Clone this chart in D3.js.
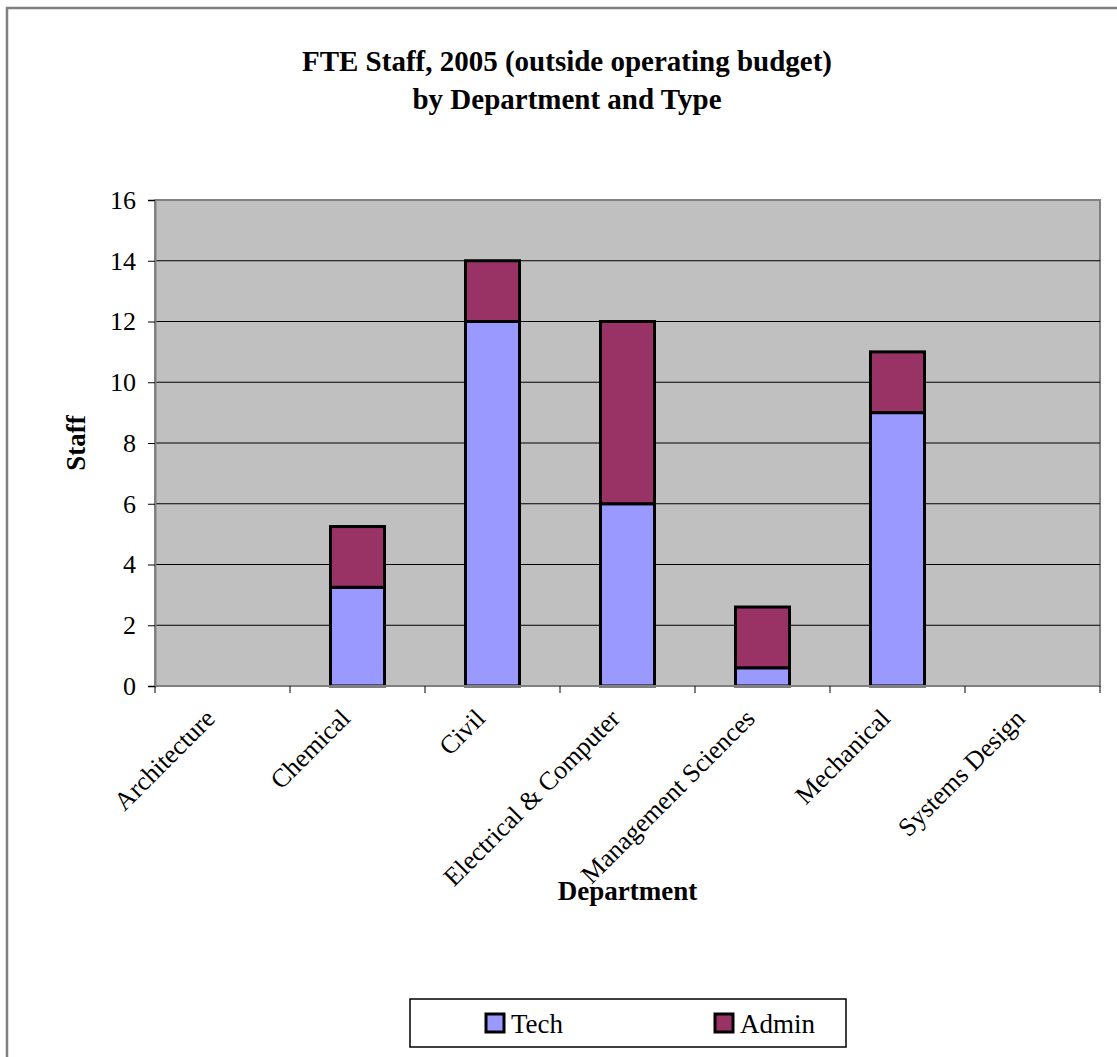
<!DOCTYPE html>
<html>
<head>
<meta charset="utf-8">
<script src="https://cdn.jsdelivr.net/npm/d3@7"></script>
<style>
  body { margin: 0; background: #fff; }
  text { font-family: "Liberation Serif", "Times New Roman", serif; fill: #000; }
</style>
</head>
<body>
<svg id="chart"></svg>
<script>
const departments = ["Architecture", "Chemical", "Civil", "Electrical & Computer",
                     "Management Sciences", "Mechanical", "Systems Design"];
const tech = [0, 3.25, 12, 6, 0.6, 9, 0];
const admin = [0, 2, 2, 6, 2, 2, 0];
const seriesNames = ["Tech", "Admin"];
const seriesColors = ["#9999ff", "#993366"];
const yTicks = [0, 2, 4, 6, 8, 10, 12, 14, 16];

const width = 1117;
const height = 1057;
const svg = d3.select("#chart")
              .attr("width", width)
              .attr("height", height);

// outer chart frame
svg.append("rect")
    .attr("x", 7).attr("y", 8)
    .attr("width", width + 20).attr("height", height + 20)
    .attr("fill", "#fff")
    .attr("stroke", "#808080")
    .attr("stroke-width", 2.5);

const margin = {top: 200, right: 17, bottom: 371, left: 155};
const plotW = width - margin.left - margin.right;
const plotH = height - margin.top - margin.bottom;

const x = d3.scaleBand()
            .domain(departments)
            .range([margin.left, margin.left + plotW])
            .paddingInner(0.6).paddingOuter(0.3);
// ticks sit between categories
const edges = d3.scaleLinear().domain([0, departments.length]).range([margin.left, margin.left + plotW]);
const y = d3.scaleLinear().domain([0, 16]).range([margin.top + plotH, margin.top]);

// plot background
svg.append("rect")
    .attr("x", margin.left).attr("y", margin.top)
    .attr("width", plotW).attr("height", plotH)
    .attr("fill", "#c0c0c0")
    .attr("stroke", "#808080")
    .attr("stroke-width", 2);

// gridlines
svg.append("g").selectAll("line")
    .data(yTicks.filter(d => d > 0 && d < 16))
    .enter().append("line")
      .attr("x1", margin.left).attr("x2", margin.left + plotW)
      .attr("y1", d => y(d)).attr("y2", d => y(d))
      .attr("stroke", "#000")
      .attr("stroke-width", 1);

// stacked bars
const rows = departments.map((d, i) => ({dept: d, Tech: tech[i], Admin: admin[i]}));
const stack = d3.stack().keys(seriesNames)(rows);

svg.append("g").selectAll("g")
    .data(stack)
    .enter().append("g")
      .attr("fill", (d, i) => seriesColors[i])
    .selectAll("rect")
    .data(d => d.filter(p => p[1] - p[0] > 0))
    .enter().append("rect")
      .attr("x", d => x(d.data.dept))
      .attr("width", x.bandwidth())
      .attr("y", d => y(d[1]))
      .attr("height", d => y(d[0]) - y(d[1]))
      .attr("stroke", "#000")
      .attr("stroke-width", 3);

// y axis
const yAxis = svg.append("g")
    .attr("transform", `translate(${margin.left},0)`)
    .call(d3.axisLeft(y).tickValues(yTicks).tickSize(7).tickPadding(12).tickFormat(d3.format("d")));
yAxis.select(".domain").attr("stroke", "#808080").attr("stroke-width", 2);
yAxis.selectAll(".tick line").attr("stroke", "#000");
yAxis.selectAll(".tick text")
    .attr("font-family", "Liberation Serif")
    .attr("font-size", 26);

// x axis: ticks on category boundaries
svg.append("line")
    .attr("x1", margin.left).attr("x2", margin.left + plotW)
    .attr("y1", y(0)).attr("y2", y(0))
    .attr("stroke", "#808080").attr("stroke-width", 2);
svg.append("g").selectAll("line")
    .data(d3.range(departments.length + 1))
    .enter().append("line")
      .attr("x1", d => edges(d)).attr("x2", d => edges(d))
      .attr("y1", y(0)).attr("y2", y(0) + 7)
      .attr("stroke", "#000");

svg.append("g").selectAll("text")
    .data(departments)
    .enter().append("text")
      .attr("transform", d => `translate(${x(d) + x.bandwidth() / 2 - 6},${y(0) + 34}) rotate(-45)`)
      .attr("text-anchor", "end")
      .attr("font-size", 26)
      .text(d => d);

// titles
const title = svg.append("text")
    .attr("x", 567)
    .attr("text-anchor", "middle")
    .attr("font-weight", "bold")
    .attr("font-size", 29);
title.append("tspan").attr("x", 567).attr("y", 71).text("FTE Staff, 2005 (outside operating budget)");
title.append("tspan").attr("x", 567).attr("y", 109).text("by Department and Type");

svg.append("text")
    .attr("transform", `translate(85,${margin.top + plotH / 2}) rotate(-90)`)
    .attr("text-anchor", "middle")
    .attr("font-weight", "bold")
    .attr("font-size", 27)
    .text("Staff");

svg.append("text")
    .attr("x", margin.left + plotW / 2)
    .attr("y", 900)
    .attr("text-anchor", "middle")
    .attr("font-weight", "bold")
    .attr("font-size", 27)
    .text("Department");

// legend
const legend = svg.append("g");
legend.append("rect")
    .attr("x", 410).attr("y", 999)
    .attr("width", 436).attr("height", 48)
    .attr("fill", "#fff")
    .attr("stroke", "#000")
    .attr("stroke-width", 1.5);
const legendX = [486, 715];
const items = legend.selectAll("g.item")
    .data(seriesNames)
    .enter().append("g")
      .attr("class", "item")
      .attr("transform", (d, i) => `translate(${legendX[i]},1014)`);
items.append("rect")
    .attr("width", 18).attr("height", 18)
    .attr("fill", (d, i) => seriesColors[i])
    .attr("stroke", "#000")
    .attr("stroke-width", 3);
items.append("text")
    .attr("x", 25).attr("y", 19)
    .attr("font-size", 27)
    .text(d => d);
</script>
</body>
</html>
